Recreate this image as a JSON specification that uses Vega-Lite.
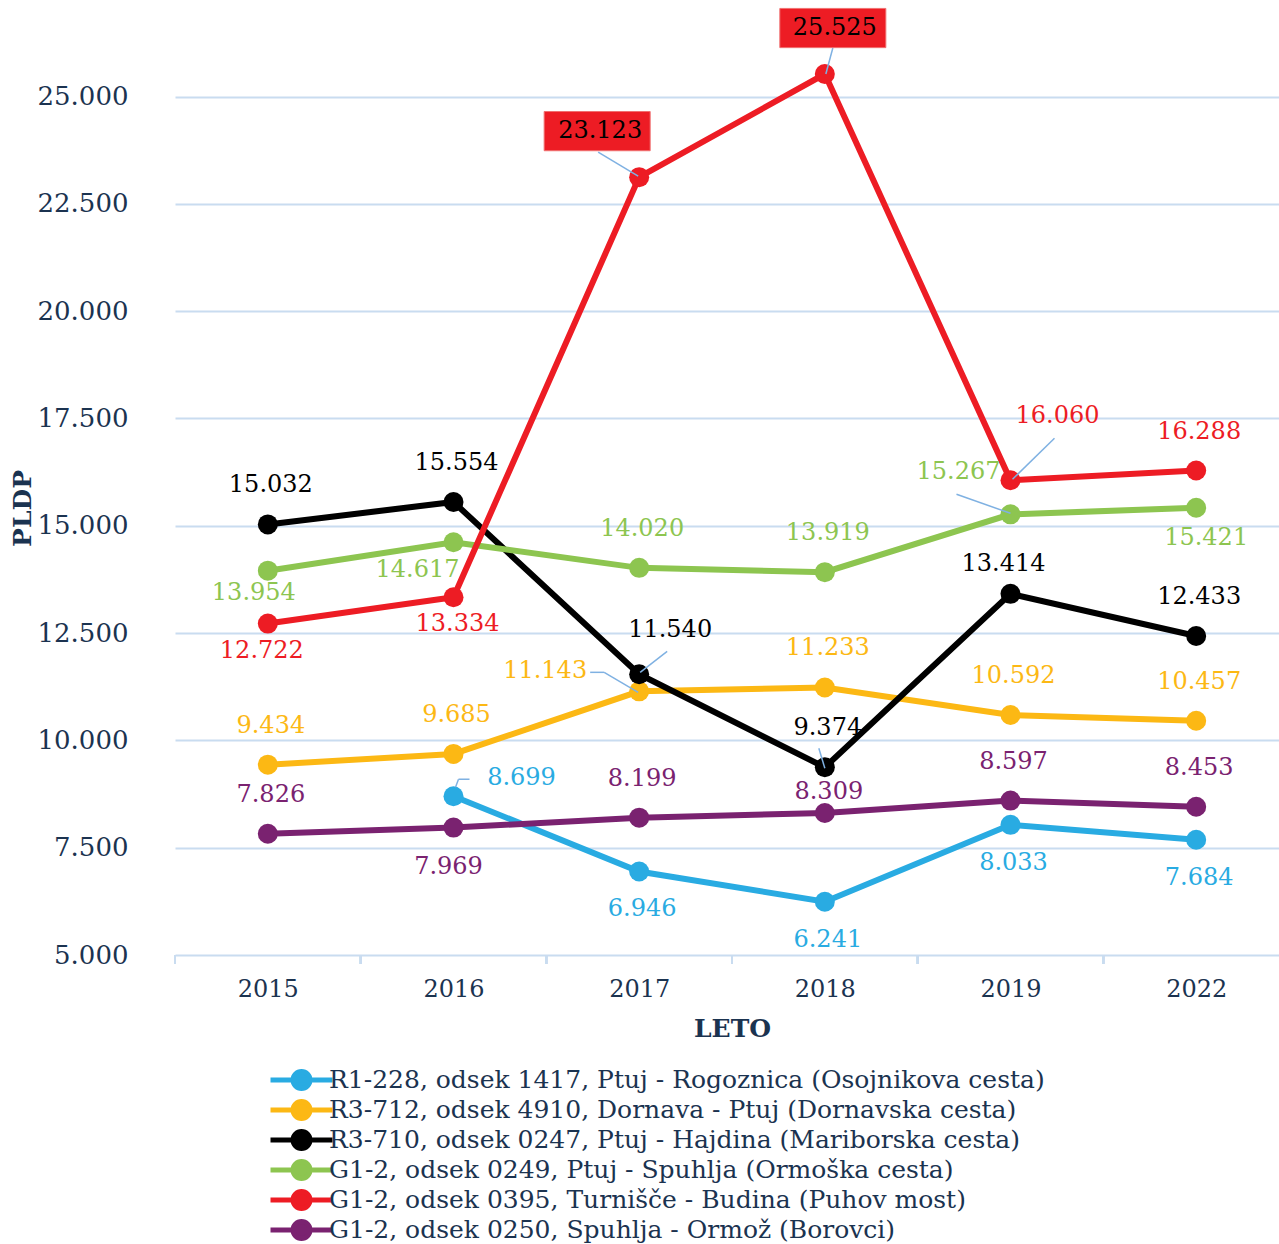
{
  "$schema": "https://vega.github.io/schema/vega-lite/v6.json",
  "width": 1104,
  "height": 955,
  "autosize": {"type": "none"},
  "padding": {"left": 175, "top": 0, "right": 0, "bottom": 289},
  "background": "white",
  "config": {
    "locale": {"number": {"decimal": ",", "thousands": ".", "grouping": [3], "currency": ["", " €"]}},
    "font": "DejaVu Serif",
    "view": {"stroke": null},
    "text": {"fontSize": 24, "baseline": "middle", "align": "center"}
  },
  "data": {"values": [
    {"serija": "R1-228, odsek 1417, Ptuj - Rogoznica (Osojnikova cesta)", "oznaka": "1417", "leto": "2016", "pldp": 8699},
    {"serija": "R1-228, odsek 1417, Ptuj - Rogoznica (Osojnikova cesta)", "oznaka": "1417", "leto": "2017", "pldp": 6946},
    {"serija": "R1-228, odsek 1417, Ptuj - Rogoznica (Osojnikova cesta)", "oznaka": "1417", "leto": "2018", "pldp": 6241},
    {"serija": "R1-228, odsek 1417, Ptuj - Rogoznica (Osojnikova cesta)", "oznaka": "1417", "leto": "2019", "pldp": 8033},
    {"serija": "R1-228, odsek 1417, Ptuj - Rogoznica (Osojnikova cesta)", "oznaka": "1417", "leto": "2022", "pldp": 7684},
    {"serija": "R3-712, odsek 4910, Dornava - Ptuj (Dornavska cesta)", "oznaka": "4910", "leto": "2015", "pldp": 9434},
    {"serija": "R3-712, odsek 4910, Dornava - Ptuj (Dornavska cesta)", "oznaka": "4910", "leto": "2016", "pldp": 9685},
    {"serija": "R3-712, odsek 4910, Dornava - Ptuj (Dornavska cesta)", "oznaka": "4910", "leto": "2017", "pldp": 11143},
    {"serija": "R3-712, odsek 4910, Dornava - Ptuj (Dornavska cesta)", "oznaka": "4910", "leto": "2018", "pldp": 11233},
    {"serija": "R3-712, odsek 4910, Dornava - Ptuj (Dornavska cesta)", "oznaka": "4910", "leto": "2019", "pldp": 10592},
    {"serija": "R3-712, odsek 4910, Dornava - Ptuj (Dornavska cesta)", "oznaka": "4910", "leto": "2022", "pldp": 10457},
    {"serija": "R3-710, odsek 0247, Ptuj - Hajdina (Mariborska cesta)", "oznaka": "0247", "leto": "2015", "pldp": 15032},
    {"serija": "R3-710, odsek 0247, Ptuj - Hajdina (Mariborska cesta)", "oznaka": "0247", "leto": "2016", "pldp": 15554},
    {"serija": "R3-710, odsek 0247, Ptuj - Hajdina (Mariborska cesta)", "oznaka": "0247", "leto": "2017", "pldp": 11540},
    {"serija": "R3-710, odsek 0247, Ptuj - Hajdina (Mariborska cesta)", "oznaka": "0247", "leto": "2018", "pldp": 9374},
    {"serija": "R3-710, odsek 0247, Ptuj - Hajdina (Mariborska cesta)", "oznaka": "0247", "leto": "2019", "pldp": 13414},
    {"serija": "R3-710, odsek 0247, Ptuj - Hajdina (Mariborska cesta)", "oznaka": "0247", "leto": "2022", "pldp": 12433},
    {"serija": "G1-2, odsek 0249, Ptuj - Spuhlja (Ormoška cesta)", "oznaka": "0249", "leto": "2015", "pldp": 13954},
    {"serija": "G1-2, odsek 0249, Ptuj - Spuhlja (Ormoška cesta)", "oznaka": "0249", "leto": "2016", "pldp": 14617},
    {"serija": "G1-2, odsek 0249, Ptuj - Spuhlja (Ormoška cesta)", "oznaka": "0249", "leto": "2017", "pldp": 14020},
    {"serija": "G1-2, odsek 0249, Ptuj - Spuhlja (Ormoška cesta)", "oznaka": "0249", "leto": "2018", "pldp": 13919},
    {"serija": "G1-2, odsek 0249, Ptuj - Spuhlja (Ormoška cesta)", "oznaka": "0249", "leto": "2019", "pldp": 15267},
    {"serija": "G1-2, odsek 0249, Ptuj - Spuhlja (Ormoška cesta)", "oznaka": "0249", "leto": "2022", "pldp": 15421},
    {"serija": "G1-2, odsek 0395, Turnišče - Budina (Puhov most)", "oznaka": "0395", "leto": "2015", "pldp": 12722},
    {"serija": "G1-2, odsek 0395, Turnišče - Budina (Puhov most)", "oznaka": "0395", "leto": "2016", "pldp": 13334},
    {"serija": "G1-2, odsek 0395, Turnišče - Budina (Puhov most)", "oznaka": "0395", "leto": "2017", "pldp": 23123},
    {"serija": "G1-2, odsek 0395, Turnišče - Budina (Puhov most)", "oznaka": "0395", "leto": "2018", "pldp": 25525},
    {"serija": "G1-2, odsek 0395, Turnišče - Budina (Puhov most)", "oznaka": "0395", "leto": "2019", "pldp": 16060},
    {"serija": "G1-2, odsek 0395, Turnišče - Budina (Puhov most)", "oznaka": "0395", "leto": "2022", "pldp": 16288},
    {"serija": "G1-2, odsek 0250, Spuhlja - Ormož (Borovci)", "oznaka": "0250", "leto": "2015", "pldp": 7826},
    {"serija": "G1-2, odsek 0250, Spuhlja - Ormož (Borovci)", "oznaka": "0250", "leto": "2016", "pldp": 7969},
    {"serija": "G1-2, odsek 0250, Spuhlja - Ormož (Borovci)", "oznaka": "0250", "leto": "2017", "pldp": 8199},
    {"serija": "G1-2, odsek 0250, Spuhlja - Ormož (Borovci)", "oznaka": "0250", "leto": "2018", "pldp": 8309},
    {"serija": "G1-2, odsek 0250, Spuhlja - Ormož (Borovci)", "oznaka": "0250", "leto": "2019", "pldp": 8597},
    {"serija": "G1-2, odsek 0250, Spuhlja - Ormož (Borovci)", "oznaka": "0250", "leto": "2022", "pldp": 8453}
  ]},
  "transform": [{"calculate": "datum.oznaka + '_' + datum.leto", "as": "k"}],
  "encoding": {
    "x": {
      "field": "leto", "type": "ordinal",
      "scale": {"type": "point", "padding": 0.5, "range": [0, 1114]},
      "axis": {
        "title": "LETO", "titleFontWeight": "bold", "titleFontSize": 25, "titleColor": "#1b3350",
        "titleX": 557, "titleY": 73, "titleBaseline": "middle", "titleAlign": "center", "titleAnchor": null,
        "labelFontSize": 24, "labelColor": "#1b3350", "labelPadding": 22, "labelAngle": 0,
        "ticks": false, "domain": false, "grid": false
      }
    },
    "y": {
      "field": "pldp", "type": "quantitative",
      "scale": {"domain": [5000, 27250], "nice": false, "zero": false},
      "axis": {
        "title": "PLDP", "values": [5000, 7500, 10000, 12500, 15000, 17500, 20000, 22500, 25000],
        "format": ",d", "labelFontSize": 26, "labelColor": "#1b3350", "labelPadding": 47,
        "ticks": false, "domain": false, "grid": true, "gridColor": "#c9dcf0", "gridWidth": 2,
        "titleX": -153, "titleY": 508, "titleAngle": 270, "titleFontWeight": "bold", "titleFontSize": 25,
        "titleColor": "#1b3350", "titleAlign": "center", "titleBaseline": "middle"
      }
    },
    "color": {
      "field": "serija", "type": "nominal",
      "scale": {
        "domain": [
          "R1-228, odsek 1417, Ptuj - Rogoznica (Osojnikova cesta)",
          "R3-712, odsek 4910, Dornava - Ptuj (Dornavska cesta)",
          "R3-710, odsek 0247, Ptuj - Hajdina (Mariborska cesta)",
          "G1-2, odsek 0249, Ptuj - Spuhlja (Ormoška cesta)",
          "G1-2, odsek 0395, Turnišče - Budina (Puhov most)",
          "G1-2, odsek 0250, Spuhlja - Ormož (Borovci)"
        ],
        "range": ["#29abe2", "#fcb814", "#000000", "#8dc550", "#ed1c24", "#7a2270"]
      },
      "legend": {
        "orient": "none", "legendX": 93, "legendY": 1065, "title": null,
        "symbolType": "M-1,0L5.2,0M1.25,0A0.85,0.85 0 1 0 2.95,0A0.85,0.85 0 1 0 1.25,0Z",
        "symbolSize": 400, "symbolStrokeWidth": 5,
        "labelFont": "DejaVu Serif", "labelFontSize": 25, "labelColor": "#1b3350", "labelOffset": 36,
        "clipHeight": 30, "rowPadding": 0, "labelLimit": 1000,
        "encode": {"symbols": {"update": {
          "fill": {"scale": "color", "field": "value"},
          "stroke": {"scale": "color", "field": "value"},
          "opacity": {"value": 1}, "fillOpacity": {"value": 1}, "strokeOpacity": {"value": 1}
        }}}
      }
    }
  },
  "layer": [
    {
      "mark": {"type": "rule", "xOffset": -92.83, "y2Offset": 9, "strokeWidth": 2},
      "encoding": {"y": {"datum": 5000}, "y2": {"datum": 5000}, "color": {"value": "#c9dcf0"}}
    },
    {"mark": {"type": "line", "strokeWidth": 6}},
    {"mark": {"type": "point", "filled": true, "size": 400, "opacity": 1}},
    {
      "transform": [{"filter": {"field": "k", "oneOf": ["1417_2016", "4910_2017", "0247_2017", "0247_2018", "0249_2019", "0395_2019", "0395_2017", "0395_2018"]}}],
      "layer": [
        {"transform": [{"filter": "datum.k == '1417_2016'"}], "mark": {"type": "rule", "xOffset": 2, "yOffset": -9, "x2Offset": 5, "y2Offset": -17, "strokeWidth": 1.5}},
        {"transform": [{"filter": "datum.k == '1417_2016'"}], "mark": {"type": "rule", "xOffset": 5, "yOffset": -17, "x2Offset": 16, "y2Offset": -17, "strokeWidth": 1.5}},
        {"transform": [{"filter": "datum.k == '4910_2017'"}], "mark": {"type": "rule", "xOffset": -1, "yOffset": 1, "x2Offset": -35, "y2Offset": -19, "strokeWidth": 1.5}},
        {"transform": [{"filter": "datum.k == '4910_2017'"}], "mark": {"type": "rule", "xOffset": -35, "yOffset": -19, "x2Offset": -49, "y2Offset": -19, "strokeWidth": 1.5}},
        {"transform": [{"filter": "datum.k == '0247_2017'"}], "mark": {"type": "rule", "xOffset": 1, "yOffset": -2, "x2Offset": 28, "y2Offset": -23, "strokeWidth": 1.5}},
        {"transform": [{"filter": "datum.k == '0247_2018'"}], "mark": {"type": "rule", "xOffset": 0, "yOffset": 1, "x2Offset": -6, "y2Offset": -19, "strokeWidth": 1.5}},
        {"transform": [{"filter": "datum.k == '0249_2019'"}], "mark": {"type": "rule", "xOffset": 0, "yOffset": -1, "x2Offset": -54, "y2Offset": -20, "strokeWidth": 1.5}},
        {"transform": [{"filter": "datum.k == '0395_2019'"}], "mark": {"type": "rule", "xOffset": 2, "yOffset": -1, "x2Offset": 44, "y2Offset": -42, "strokeWidth": 1.5}},
        {"transform": [{"filter": "datum.k == '0395_2017'"}], "mark": {"type": "rule", "xOffset": -1, "yOffset": -1, "x2Offset": -41, "y2Offset": -25, "strokeWidth": 1.5}},
        {"transform": [{"filter": "datum.k == '0395_2018'"}], "mark": {"type": "rule", "xOffset": 1, "yOffset": 0, "x2Offset": 8, "y2Offset": -26, "strokeWidth": 1.5}}
      ],
      "encoding": {"x2": {"field": "leto"}, "y2": {"field": "pldp"}, "color": {"value": "#7fb1e2"}}
    },
    {
      "transform": [{"filter": {"field": "k", "oneOf": ["0395_2017", "0395_2018"]}}],
      "layer": [
        {"transform": [{"filter": "datum.k == '0395_2017'"}], "mark": {"type": "point", "filled": true, "opacity": 1, "size": 11236, "xOffset": -42, "yOffset": -46, "shape": "M-1,-0.37L1,-0.37L1,0.37L-1,0.37Z", "stroke": "#f07070", "strokeWidth": 1}},
        {"transform": [{"filter": "datum.k == '0395_2018'"}], "mark": {"type": "point", "filled": true, "opacity": 1, "size": 11236, "xOffset": 8, "yOffset": -46, "shape": "M-1,-0.37L1,-0.37L1,0.37L-1,0.37Z", "stroke": "#f07070", "strokeWidth": 1}},
        {"transform": [{"filter": "datum.k == '0395_2017'"}], "mark": {"type": "text", "dx": -39, "dy": -46}, "encoding": {"text": {"field": "pldp", "type": "quantitative", "format": ",d"}, "color": {"value": "#000000"}}},
        {"transform": [{"filter": "datum.k == '0395_2018'"}], "mark": {"type": "text", "dx": 10, "dy": -46}, "encoding": {"text": {"field": "pldp", "type": "quantitative", "format": ",d"}, "color": {"value": "#000000"}}}
      ],
      "encoding": {"color": {"value": "#ed1c24"}}
    },
    {
      "encoding": {"text": {"field": "pldp", "type": "quantitative", "format": ",d"}},
      "layer": [
        {"transform": [{"filter": {"field": "k", "oneOf": ["4910_2015", "4910_2016", "4910_2018", "4910_2019", "4910_2022", "0247_2015", "0247_2016", "0247_2022", "0247_2018", "0249_2017", "0249_2018", "0395_2022", "0250_2015", "0250_2017", "0250_2019", "0250_2022"]}}], "mark": {"type": "text", "dx": 3, "dy": -39}},
        {"transform": [{"filter": {"field": "k", "oneOf": ["1417_2017", "1417_2018", "1417_2019", "1417_2022"]}}], "mark": {"type": "text", "dx": 3, "dy": 38}},
        {"transform": [{"filter": "datum.k == '0250_2016'"}], "mark": {"type": "text", "dx": -5, "dy": 39}},
        {"transform": [{"filter": "datum.k == '0395_2015'"}], "mark": {"type": "text", "dx": -6, "dy": 27}},
        {"transform": [{"filter": "datum.k == '0395_2016'"}], "mark": {"type": "text", "dx": 4, "dy": 27}},
        {"transform": [{"filter": "datum.k == '0249_2015'"}], "mark": {"type": "text", "dx": -14, "dy": 22}},
        {"transform": [{"filter": "datum.k == '0249_2016'"}], "mark": {"type": "text", "dx": -36, "dy": 28}},
        {"transform": [{"filter": "datum.k == '0249_2022'"}], "mark": {"type": "text", "dx": 10, "dy": 30}},
        {"transform": [{"filter": "datum.k == '1417_2016'"}], "mark": {"type": "text", "dx": 68, "dy": -18}},
        {"transform": [{"filter": "datum.k == '4910_2017'"}], "mark": {"type": "text", "dx": -94, "dy": -20}},
        {"transform": [{"filter": "datum.k == '0247_2017'"}], "mark": {"type": "text", "dx": 31, "dy": -44}},
        {"transform": [{"filter": "datum.k == '0247_2019'"}], "mark": {"type": "text", "dx": -7, "dy": -30}},
        {"transform": [{"filter": "datum.k == '0249_2019'"}], "mark": {"type": "text", "dx": -52, "dy": -42}},
        {"transform": [{"filter": "datum.k == '0395_2019'"}], "mark": {"type": "text", "dx": 47, "dy": -64}},
        {"transform": [{"filter": "datum.k == '0250_2018'"}], "mark": {"type": "text", "dx": 4, "dy": -21}}
      ]
    }
  ]
}
